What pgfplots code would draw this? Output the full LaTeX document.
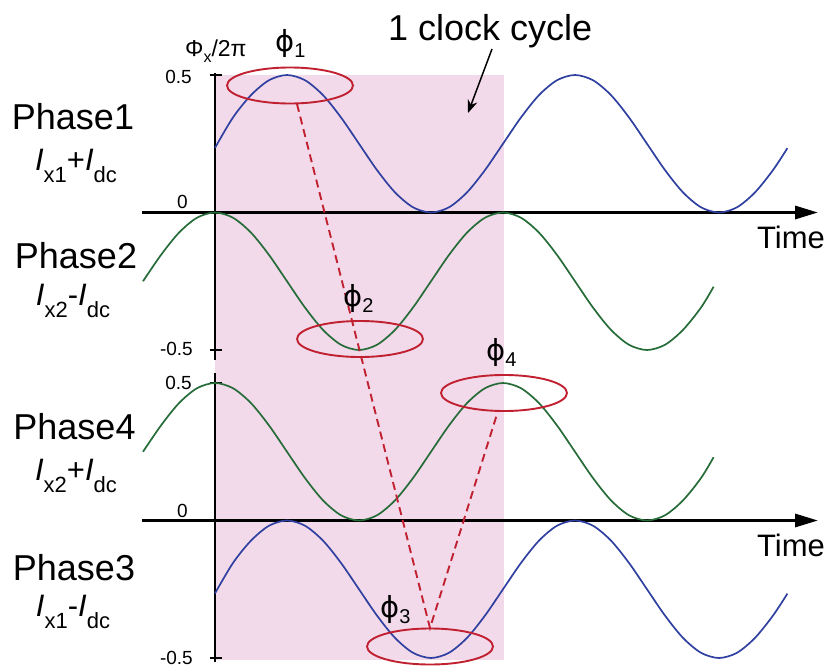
\documentclass[border=0pt]{standalone}
\usepackage{pgfplots}
\pgfplotsset{compat=1.18}
\usepackage{fontspec}
\setmainfont{Liberation Sans}
\newfontfamily\djv{DejaVu Sans}
\usetikzlibrary{arrows.meta}
\definecolor{blueC}{RGB}{48,64,160}
\definecolor{greenC}{RGB}{38,108,56}
\definecolor{redC}{RGB}{192,32,48}
\definecolor{pinkC}{RGB}{242,218,234}
\newcommand\fs[1]{\fontsize{#1}{#1}\selectfont}
\newcommand\cur[2]{\fs{31}\textit{I}\raisebox{-12pt}{\fs{22}#1}#2}
\newcommand\phil[1]{{\djv\fs{29}ϕ}\raisebox{-6pt}{\fs{20}#1}}
\begin{document}
\begin{tikzpicture}
\pgfplotsset{myax/.style={anchor=origin, x=18pt, y=275pt, xmin=-5, xmax=34, ymin=-0.6, ymax=0.6, hide axis, clip=false}}
% ---------- top panel ----------
\begin{axis}[myax, at={(215pt,-212.5pt)}]
\fill[pinkC] (axis cs:0,0.5) rectangle (axis cs:16.06,-1.627);
\draw[line width=3.2pt, -{Triangle[length=23pt,width=13pt]}] (axis cs:-4.06,0) -- (axis cs:33.5,0);
\draw[line width=2.8pt] (axis cs:0,0.507) -- (axis cs:0,-0.536);
\draw[line width=2.4pt] (axis cs:-0.3,0.5) -- (axis cs:0.4,0.5);
\draw[line width=2.4pt] (axis cs:-0.3,-0.5) -- (axis cs:0.4,-0.5);
\addplot[greenC, line width=1.7pt, smooth] coordinates {
(-4,-0.25) (-3,-0.1543) (-2,-0.0732) (-1,-0.0190) (0,0) (1,-0.0190) (2,-0.0732) (3,-0.1543)
(4,-0.25) (5,-0.3457) (6,-0.4268) (7,-0.4810) (8,-0.5) (9,-0.4810) (10,-0.4268) (11,-0.3457)
(12,-0.25) (13,-0.1543) (14,-0.0732) (15,-0.0190) (16,0) (17,-0.0190) (18,-0.0732) (19,-0.1543)
(20,-0.25) (21,-0.3457) (22,-0.4268) (23,-0.4810) (24,-0.5) (25,-0.4810) (26,-0.4268) (27,-0.3457) (27.7,-0.27)};
\addplot[blueC, line width=1.7pt, smooth] coordinates {
(0,0.235) (1,0.3457) (2,0.4268) (3,0.4810) (4,0.5) (5,0.4810) (6,0.4268) (7,0.3457)
(8,0.25) (9,0.1543) (10,0.0732) (11,0.0190) (12,0) (13,0.0190) (14,0.0732) (15,0.1543)
(16,0.25) (17,0.3457) (18,0.4268) (19,0.4810) (20,0.5) (21,0.4810) (22,0.4268) (23,0.3457)
(24,0.25) (25,0.1543) (26,0.0732) (27,0.0190) (28,0) (29,0.0190) (30,0.0732) (31,0.1543) (31.8,0.234)};
\end{axis}
% ---------- bottom panel ----------
\begin{axis}[myax, at={(215pt,-520.5pt)}]
\draw[line width=3.2pt, -{Triangle[length=23pt,width=13pt]}] (axis cs:-4.06,0) -- (axis cs:33.5,0);
\draw[line width=2.8pt] (axis cs:0,0.536) -- (axis cs:0,-0.515);
\draw[line width=2.4pt] (axis cs:-0.3,0.5) -- (axis cs:0.4,0.5);
\draw[line width=2.4pt] (axis cs:-0.3,-0.5) -- (axis cs:0.4,-0.5);
\addplot[greenC, line width=1.7pt, smooth] coordinates {
(-4,0.25) (-3,0.3457) (-2,0.4268) (-1,0.4810) (0,0.5) (1,0.4810) (2,0.4268) (3,0.3457)
(4,0.25) (5,0.1543) (6,0.0732) (7,0.0190) (8,0) (9,0.0190) (10,0.0732) (11,0.1543)
(12,0.25) (13,0.3457) (14,0.4268) (15,0.4810) (16,0.5) (17,0.4810) (18,0.4268) (19,0.3457)
(20,0.25) (21,0.1543) (22,0.0732) (23,0.0190) (24,0) (25,0.0190) (26,0.0732) (27,0.1543) (27.7,0.23)};
\addplot[blueC, line width=1.7pt, smooth] coordinates {
(0,-0.265) (1,-0.1543) (2,-0.0732) (3,-0.0190) (4,0) (5,-0.0190) (6,-0.0732) (7,-0.1543)
(8,-0.25) (9,-0.3457) (10,-0.4268) (11,-0.4810) (12,-0.5) (13,-0.4810) (14,-0.4268) (15,-0.3457)
(16,-0.25) (17,-0.1543) (18,-0.0732) (19,-0.0190) (20,0) (21,-0.0190) (22,-0.0732) (23,-0.1543)
(24,-0.25) (25,-0.3457) (26,-0.4268) (27,-0.4810) (28,-0.5) (29,-0.4810) (30,-0.4268) (31,-0.3457) (31.8,-0.266)};
\end{axis}
% ---------- annotations ----------
\begin{scope}[redC, line width=1.9pt]
\draw (290pt,-85.5pt) ellipse [x radius=63pt, y radius=18pt];
\draw (360pt,-339pt) ellipse [x radius=63pt, y radius=18pt];
\draw (504pt,-393pt) ellipse [x radius=63pt, y radius=18pt];
\draw (430pt,-646.5pt) ellipse [x radius=63pt, y radius=18pt];
\draw[dash pattern=on 8pt off 5pt] (297pt,-104pt) -- (430pt,-628pt) -- (498pt,-411pt);
\end{scope}
\draw[line width=1.5pt, -{Stealth[length=13pt,width=10pt]}] (492pt,-49pt) -- (468pt,-113pt);
% ---------- texts ----------
\begin{scope}[every node/.style={inner sep=0pt}]
\node[anchor=base west] at (388pt,-40pt) {\fs{36}1 clock cycle};
\node[anchor=base west] at (185pt,-56pt) {\fs{23}Φ\raisebox{-6pt}{\fs{16}x}/2π};
\node[anchor=base west] at (275pt,-51pt) {\phil{1}};
\node[anchor=base west] at (343pt,-306pt) {\phil{2}};
\node[anchor=base west] at (486pt,-360pt) {\phil{4}};
\node[anchor=base west] at (380pt,-617pt) {\phil{3}};
\node[anchor=base west] at (757pt,-248pt) {\fs{31}Time};
\node[anchor=base west] at (757pt,-556pt) {\fs{31}Time};
\node[anchor=base] at (73pt,-129pt) {\fs{36}Phase1};
\node[anchor=base] at (76pt,-170pt) {\cur{x1}{+}\textit{I}\raisebox{-12pt}{\fs{22}dc}};
\node[anchor=base] at (76pt,-268pt) {\fs{36}Phase2};
\node[anchor=base] at (73pt,-305pt) {\cur{x2}{-}\textit{I}\raisebox{-12pt}{\fs{22}dc}};
\node[anchor=base] at (74.5pt,-439pt) {\fs{36}Phase4};
\node[anchor=base] at (76pt,-480pt) {\cur{x2}{+}\textit{I}\raisebox{-12pt}{\fs{22}dc}};
\node[anchor=base] at (74pt,-580pt) {\fs{36}Phase3};
\node[anchor=base] at (73pt,-616pt) {\cur{x1}{-}\textit{I}\raisebox{-12pt}{\fs{22}dc}};
\node[anchor=base east] at (192pt,-83pt) {\fs{19}0.5};
\node[anchor=base east] at (188pt,-208pt) {\fs{19}0};
\node[anchor=east] at (193pt,-349pt) {\fs{19}-0.5};
\node[anchor=east] at (192pt,-383pt) {\fs{19}0.5};
\node[anchor=base east] at (188pt,-517pt) {\fs{19}0};
\node[anchor=east] at (193pt,-658pt) {\fs{19}-0.5};
\end{scope}
\pgfresetboundingbox
\path[use as bounding box] (0,0) rectangle (831pt,-672pt);
\end{tikzpicture}
\end{document}
